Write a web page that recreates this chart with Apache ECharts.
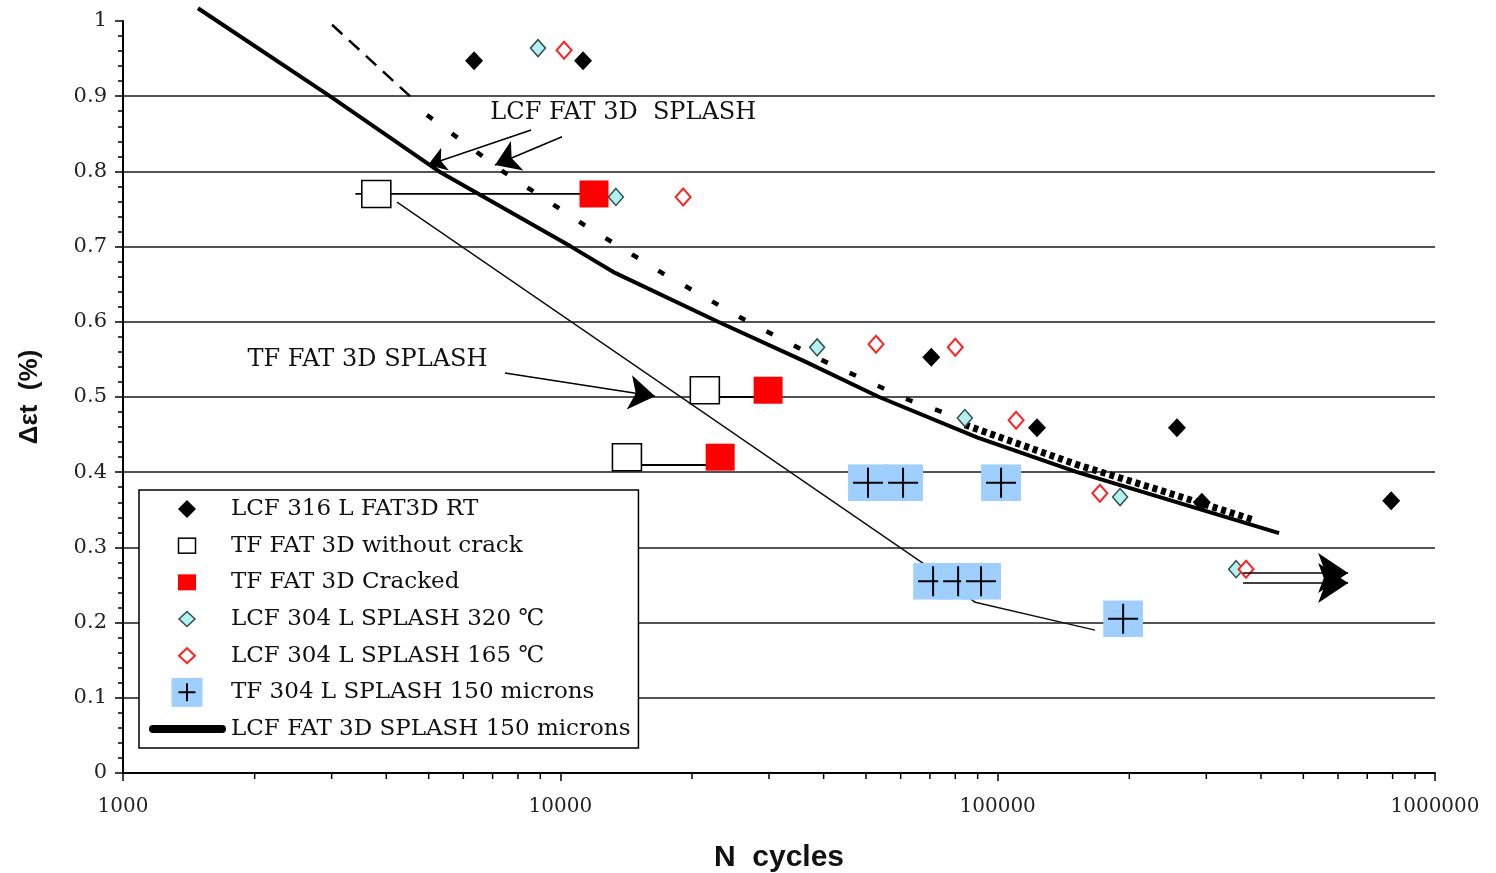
<!DOCTYPE html>
<html><head><meta charset="utf-8">
<script src="https://cdn.jsdelivr.net/npm/echarts@6/dist/echarts.min.js"></script>
<style>html,body{margin:0;padding:0;background:#fff}#c{width:1496px;height:873px}</style>
</head><body><div id="c"></div>
<script>
// ---------- data ----------
const lcf316N = [6350, 11270, 70500, 123000, 257000, 293000, 794000];
const lcf316E = [0.947, 0.947, 0.553, 0.459, 0.459, 0.360, 0.362];
const tfNoCrackN = [3795, 21400, 14200];
const tfNoCrackE = [0.770, 0.509, 0.420];
const tfCrackedN = [11940, 29860, 23200];
const tfCrackedE = [0.770, 0.509, 0.420];
const lcf320N = [8890, 13400, 38650, 84140, 190500, 351000];
const lcf320E = [0.964, 0.766, 0.566, 0.472, 0.367, 0.271];
const lcf165N = [10200, 19090, 52700, 80000, 110200, 171300, 369800];
const lcf165E = [0.961, 0.766, 0.570, 0.566, 0.469, 0.372, 0.271];
const tf304N = [50530, 60770, 101800, 71180, 81210, 91620, 193600];
const tf304E = [0.386, 0.386, 0.386, 0.255, 0.255, 0.255, 0.205];
const curveN = [1484, 2972, 5280, 10580, 13340, 22940, 36000, 53560, 90000, 151900, 440000];
const curveE = [1.017, 0.900, 0.800, 0.700, 0.665, 0.600, 0.548, 0.500, 0.446, 0.400, 0.319];
const dashN = [3006, 4530];
const dashE = [0.995, 0.900];
const dotN = [4955, 7430, 11330, 17090, 25760, 39630, 62660, 84140];
const dotE = [0.875, 0.799, 0.729, 0.665, 0.606, 0.549, 0.496, 0.469];
const bandN = [84140, 151900, 235000, 387800];
const bandE = [0.463, 0.410, 0.376, 0.336];
const trendN = [4232, 72670, 88800, 167000];
const trendE = [0.759, 0.266, 0.227, 0.190];
const connFromN = [3400, 21400, 13840];
const connToN = [11940, 29860, 21870];
const connE = [0.770, 0.500, 0.4096];
const arrowFromN = [8576, 10090, 7470, 364000, 364000];
const arrowFromE = [0.855, 0.846, 0.532, 0.266, 0.2527];
const arrowToN = [4983, 7090, 16470, 633000, 633000];
const arrowToE = [0.8085, 0.8085, 0.501, 0.266, 0.2527];
const arrowHead = [[14, 18], [20, 24], [20, 26], [26, 30], [26, 30]];
const annoText = ['LCF FAT 3D  SPLASH', 'TF FAT 3D SPLASH'];
const annoN = [6900, 1921];
const annoE = [0.878, 0.549];
const yGridVals = [0.1, 0.2, 0.3, 0.4, 0.5, 0.6, 0.7, 0.8, 0.9];
const xMinorTicks = [2000, 3000, 4000, 5000, 6000, 7000, 8000, 9000,
  20000, 30000, 40000, 50000, 60000, 70000, 80000, 90000,
  200000, 300000, 400000, 500000, 600000, 700000, 800000, 900000];
const names = ['LCF 316 L FAT3D RT', 'TF FAT 3D without crack', 'TF FAT 3D Cracked',
  'LCF 304 L SPLASH 320 ℃', 'LCF 304 L SPLASH 165 ℃', 'TF 304 L SPLASH 150 microns',
  'LCF FAT 3D SPLASH 150 microns'];

// ---------- helpers ----------
const zip = (a, b) => a.map((v, i) => [v, b[i]]);
function svgUri(inner, w, h) {
  return 'image://data:image/svg+xml;charset=utf-8,' + encodeURIComponent(
    '<svg xmlns="http://www.w3.org/2000/svg" width="' + w + '" height="' + h +
    '" viewBox="0 0 ' + w + ' ' + h + '">' + inner + '</svg>');
}
const plusBox = svgUri('<rect x="0" y="0" width="40" height="37" fill="#9fcfff"/>' +
  '<path d="M5,18.5H35M20,3.5V33.5" stroke="#000" stroke-width="2" fill="none"/>', 40, 37);
const icons = [
  svgUri('<polygon points="39,6 48,15 39,24 30,15" fill="#000"/>', 78, 30),
  svgUri('<rect x="30.5" y="7.5" width="17" height="15" fill="#fff" stroke="#000" stroke-width="1.5"/>', 78, 30),
  svgUri('<rect x="30" y="7" width="18" height="16" fill="#ff0000"/>', 78, 30),
  svgUri('<polygon points="39,7.5 47,15 39,22.5 31,15" fill="#b4f0f0" stroke="#2f4f4f" stroke-width="1.5"/>', 78, 30),
  svgUri('<polygon points="39,7.5 47,15 39,22.5 31,15" fill="#fff" stroke="#ff2020" stroke-width="2"/>', 78, 30),
  svgUri('<rect x="23.5" y="0.5" width="31" height="29" fill="#9fcfff"/><path d="M30.5,15H47.5M39,6V24" stroke="#000" stroke-width="2" fill="none"/>', 78, 30),
  svgUri('<path d="M5,15H74" stroke="#000" stroke-width="8" stroke-linecap="round"/>', 78, 30)
];

const chart = echarts.init(document.getElementById('c'), null, {renderer: 'canvas'});
const serif = 'DejaVu Serif';

const option = {
  backgroundColor: '#fff',
  animation: false,
  grid: {left: 123, right: 61, top: 21, bottom: 100, containLabel: false, outerBoundsMode: 'none'},
  xAxis: {
    type: 'log', logBase: 10, min: 1000, max: 1000000,
    name: 'N  cycles', nameLocation: 'middle', nameGap: 70,
    nameTextStyle: {fontFamily: 'Liberation Sans', fontWeight: 'bold', fontSize: 30, color: '#111'},
    axisLine: {lineStyle: {color: '#000', width: 2}},
    axisTick: {length: 8, lineStyle: {color: '#000', width: 1.5}},
    axisLabel: {margin: 24, fontFamily: serif, fontSize: 20, color: '#222',
      formatter: v => String(Math.round(v))},
    splitLine: {show: false}
  },
  yAxis: {
    type: 'value', min: 0, max: 1, interval: 0.1,
    name: 'Δεt  (%)', nameLocation: 'middle', nameGap: 80,
    nameTextStyle: {fontFamily: 'Liberation Sans', fontWeight: 'bold', fontSize: 26, color: '#111'},
    axisLine: {show: true, lineStyle: {color: '#000', width: 2}},
    axisTick: {show: true, length: 8, lineStyle: {color: '#000', width: 1.5}},
    minorTick: {show: true, splitNumber: 5, length: 5, lineStyle: {color: '#000', width: 1.5}},
    axisLabel: {margin: 16, fontFamily: serif, fontSize: 21, color: '#222',
      formatter: v => String(+v.toFixed(1))},
    splitLine: {show: false}
  },
  legend: {
    orient: 'vertical', left: 139, top: 490, z: 20,
    padding: [4, 8, 4, 9], itemGap: 6.67, itemWidth: 78, itemHeight: 30,
    backgroundColor: '#fff', borderColor: '#000', borderWidth: 1.5,
    selectedMode: false,
    textStyle: {fontFamily: serif, fontSize: 23, color: '#111'},
    data: names.map((n, i) => ({name: n, icon: icons[i]}))
  },
  series: [
    { // horizontal grid lines
      type: 'line', data: [], z: 1, silent: true,
      markLine: {silent: true, symbol: 'none', label: {show: false}, z: 1,
        lineStyle: {color: '#1a1a1a', width: 1.5, type: 'solid'},
        data: yGridVals.map(v => ({yAxis: v}))}
    },
    { // x minor ticks
      type: 'scatter', silent: true, clip: false, z: 3,
      symbol: 'rect', symbolSize: [1.5, 5], symbolOffset: [0, 3.5],
      itemStyle: {color: '#000', opacity: 1},
      data: xMinorTicks.map(v => [v, 0])
    },
    { // thin TF trend line
      type: 'line', silent: true, symbol: 'none', z: 2,
      lineStyle: {color: '#111', width: 1.5},
      data: zip(trendN, trendE)
    },
    // connectors between uncracked / cracked specimens
    ...connE.map((e, i) => ({
      type: 'line', silent: true, symbol: 'none', z: 2,
      lineStyle: {color: '#000', width: 1.8},
      data: [[connFromN[i], e], [connToN[i], e]]
    })),
    { // upper dashed part of LCF FAT 3D SPLASH
      type: 'line', silent: true, symbol: 'none', clip: false, z: 3,
      lineStyle: {color: '#000', width: 2.5, type: [14, 9]},
      data: zip(dashN, dashE)
    },
    { // dotted part
      type: 'line', silent: true, symbol: 'none', z: 3,
      lineStyle: {color: '#000', width: 4.5, type: [7, 24]},
      data: zip(dotN, dotE)
    },
    { // jagged dense part
      type: 'line', silent: true, symbol: 'none', z: 3,
      lineStyle: {color: '#000', width: 7, type: [5, 4]},
      data: zip(bandN, bandE)
    },
    {
      name: names[6], type: 'line', symbol: 'none', clip: false, z: 4,
      lineStyle: {color: '#000', width: 4},
      itemStyle: {color: '#000'},
      data: zip(curveN, curveE)
    },
    {
      name: names[0], type: 'scatter', z: 5, symbol: 'diamond', symbolSize: [18, 19],
      itemStyle: {color: '#000', opacity: 1},
      data: zip(lcf316N, lcf316E)
    },
    {
      name: names[1], type: 'scatter', z: 5, symbol: 'rect', symbolSize: [29, 27],
      itemStyle: {color: '#fff', borderColor: '#000', borderWidth: 1.5, opacity: 1},
      data: zip(tfNoCrackN, tfNoCrackE)
    },
    {
      name: names[2], type: 'scatter', z: 5, symbol: 'rect', symbolSize: [29, 27],
      itemStyle: {color: '#ff0000', opacity: 1},
      data: zip(tfCrackedN, tfCrackedE)
    },
    {
      name: names[3], type: 'scatter', z: 5, symbol: 'diamond', symbolSize: [15, 17],
      itemStyle: {color: '#b4f0f0', borderColor: '#2f4f4f', borderWidth: 1.5, opacity: 1},
      data: zip(lcf320N, lcf320E)
    },
    {
      name: names[4], type: 'scatter', z: 5, symbol: 'diamond', symbolSize: [15, 17],
      itemStyle: {color: '#fff', borderColor: '#ff2020', borderWidth: 2, opacity: 1},
      data: zip(lcf165N, lcf165E)
    },
    {
      name: names[5], type: 'scatter', z: 5, symbol: plusBox, symbolSize: [40, 37],
      itemStyle: {color: '#9fcfff', opacity: 1},
      data: zip(tf304N, tf304E)
    },
    { // annotation arrows
      type: 'lines', coordinateSystem: 'cartesian2d', silent: true, z: 6,
      symbol: ['none', 'arrow'],
      lineStyle: {color: '#000', width: 1.5, opacity: 1, curveness: 0},
      data: arrowFromN.map((n, i) => ({
        coords: [[n, arrowFromE[i]], [arrowToN[i], arrowToE[i]]],
        symbolSize: arrowHead[i]
      }))
    },
    { // annotation texts
      type: 'scatter', silent: true, z: 6, symbolSize: 1,
      itemStyle: {color: 'rgba(0,0,0,0)', opacity: 1},
      label: {show: true, position: 'right', distance: 0, formatter: '{b}',
        fontFamily: serif, fontSize: 24, color: '#111', opacity: 1},
      data: annoText.map((t, i) => ({name: t, value: [annoN[i], annoE[i]]}))
    }
  ]
};
chart.setOption(option);
</script>
</body></html>
